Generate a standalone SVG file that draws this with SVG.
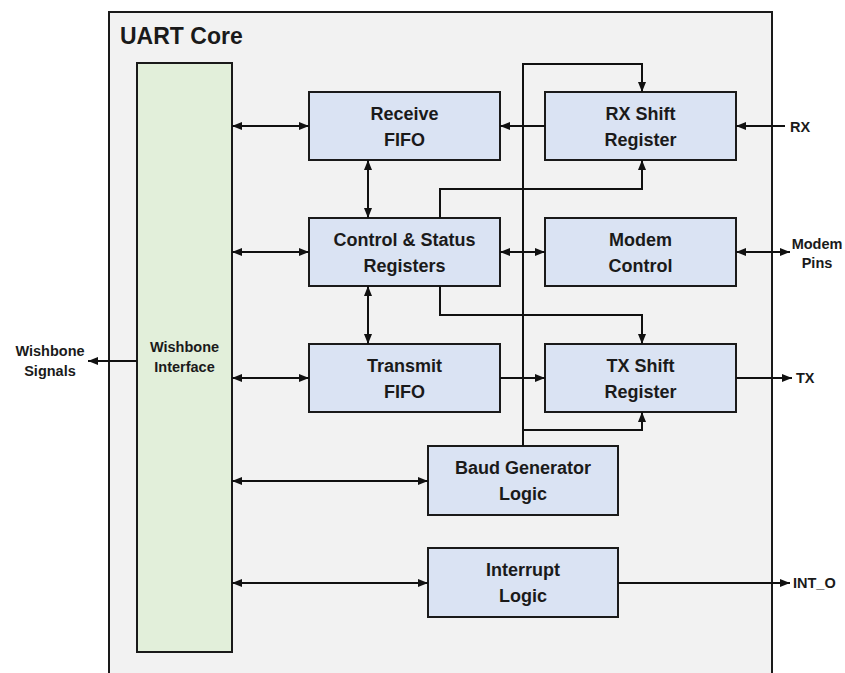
<svg xmlns="http://www.w3.org/2000/svg" width="845" height="673" viewBox="0 0 845 673">
<style>
.box{fill:#dae3f3;stroke:#1a1a1a;stroke-width:2}
.wb{fill:#e2efda;stroke:#1a1a1a;stroke-width:2}
.t{font-family:"Liberation Sans",Arial,sans-serif;font-weight:bold;font-size:18px;fill:#1a1a1a;text-anchor:middle}
.s{font-family:"Liberation Sans",Arial,sans-serif;font-weight:bold;font-size:14.5px;fill:#1a1a1a}
.c{fill:none;stroke:#111;stroke-width:2}
</style>
<defs>
<marker id="a" viewBox="0 0 10 8" refX="10" refY="4" markerWidth="10" markerHeight="8" markerUnits="userSpaceOnUse" orient="auto-start-reverse"><path d="M0,0 L10,4 L0,8 z" fill="#111"/></marker>
</defs>
<rect width="845" height="673" fill="#fff"/>
<g id="uart-core">
<rect x="109" y="12" width="663" height="680" fill="#f2f2f2" stroke="#1a1a1a" stroke-width="2"/>
<text x="120" y="44" style="font-family:'Liberation Sans',Arial,sans-serif;font-weight:bold;font-size:23px;fill:#1a1a1a">UART Core</text>
</g>
<g id="wishbone-interface">
<rect class="wb" x="137" y="63" width="95" height="589"/>
<text class="s" x="184.5" y="352" text-anchor="middle">Wishbone</text>
<text class="s" x="184.5" y="372" text-anchor="middle">Interface</text>
</g>
<g id="receive-fifo">
<rect class="box" x="309" y="92" width="191" height="68"/>
<text class="t" x="404.5" y="120">Receive</text>
<text class="t" x="404.5" y="146">FIFO</text>
</g>
<g id="rx-shift">
<rect class="box" x="545" y="92" width="191" height="68"/>
<text class="t" x="640.5" y="120">RX Shift</text>
<text class="t" x="640.5" y="146">Register</text>
</g>
<g id="control-status">
<rect class="box" x="309" y="218" width="191" height="68"/>
<text class="t" x="404.5" y="246">Control &amp; Status</text>
<text class="t" x="404.5" y="272">Registers</text>
</g>
<g id="modem-control">
<rect class="box" x="545" y="218" width="191" height="68"/>
<text class="t" x="640.5" y="246">Modem</text>
<text class="t" x="640.5" y="272">Control</text>
</g>
<g id="transmit-fifo">
<rect class="box" x="309" y="344" width="191" height="68"/>
<text class="t" x="404.5" y="372">Transmit</text>
<text class="t" x="404.5" y="398">FIFO</text>
</g>
<g id="tx-shift">
<rect class="box" x="545" y="344" width="191" height="68"/>
<text class="t" x="640.5" y="372">TX Shift</text>
<text class="t" x="640.5" y="398">Register</text>
</g>
<g id="baud-generator">
<rect class="box" x="428" y="446" width="190" height="69"/>
<text class="t" x="523" y="474">Baud Generator</text>
<text class="t" x="523" y="500">Logic</text>
</g>
<g id="interrupt-logic">
<rect class="box" x="428" y="548" width="190" height="69"/>
<text class="t" x="523" y="576">Interrupt</text>
<text class="t" x="523" y="602">Logic</text>
</g>
<g id="external-labels">
<text class="s" x="50" y="356" text-anchor="middle">Wishbone</text>
<text class="s" x="50" y="376" text-anchor="middle">Signals</text>
<text class="s" x="790" y="131.5">RX</text>
<text class="s" x="817" y="248.5" text-anchor="middle">Modem</text>
<text class="s" x="817" y="268" text-anchor="middle">Pins</text>
<text class="s" x="796" y="383">TX</text>
<text class="s" x="793" y="588">INT_O</text>
</g>
<g id="connectors" class="c">
<path d="M232,126 H309" marker-start="url(#a)" marker-end="url(#a)"/>
<path d="M232,252 H309" marker-start="url(#a)" marker-end="url(#a)"/>
<path d="M232,378 H309" marker-start="url(#a)" marker-end="url(#a)"/>
<path d="M232,481 H428" marker-start="url(#a)" marker-end="url(#a)"/>
<path d="M232,583 H428" marker-start="url(#a)" marker-end="url(#a)"/>
<path d="M137,361 H88" marker-end="url(#a)"/>
<path d="M368,160 V218" marker-start="url(#a)" marker-end="url(#a)"/>
<path d="M368,286 V344" marker-start="url(#a)" marker-end="url(#a)"/>
<path d="M545,126 H500" marker-end="url(#a)"/>
<path d="M500,252 H545" marker-start="url(#a)" marker-end="url(#a)"/>
<path d="M736,252 H790" marker-start="url(#a)" marker-end="url(#a)"/>
<path d="M785,126 H736" marker-end="url(#a)"/>
<path d="M736,378 H792" marker-end="url(#a)"/>
<path d="M618,583 H790" marker-end="url(#a)"/>
<path d="M500,378 H545" marker-end="url(#a)"/>
<path d="M523,446 V64 H642 V92" marker-end="url(#a)"/>
<path d="M523,430 H642 V412" marker-end="url(#a)"/>
<path d="M440,218 V189 H642 V160" marker-end="url(#a)"/>
<path d="M440,286 V315 H642 V344" marker-end="url(#a)"/>
</g>
</svg>
